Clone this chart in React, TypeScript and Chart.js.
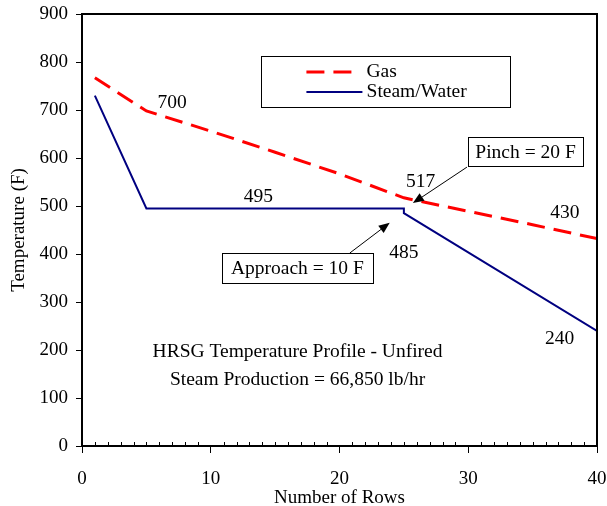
import React, { useEffect, useRef } from "react";
import Chart from "chart.js/auto";

const gasRows = [1, 5, 10, 15, 20, 25, 30, 35, 40];
const gasTemps = [767, 698, 656, 612, 567, 517, 489, 461, 432];
const steamRows = [1, 5, 25, 25, 40];
const steamTemps = [730, 495, 495, 485, 240];

const xTicks = [0, 10, 20, 30, 40];
const yTicks = [0, 100, 200, 300, 400, 500, 600, 700, 800, 900];

const valueLabels = [
  { text: "700", x: 7.0, y: 715 },
  { text: "495", x: 13.7, y: 519 },
  { text: "517", x: 26.3, y: 550 },
  { text: "485", x: 25.0, y: 402 },
  { text: "430", x: 37.5, y: 485 },
  { text: "240", x: 37.1, y: 223 },
];

const noteBoxes = [
  { text: "Pinch = 20 F", x1: 30.0, x2: 38.9, y1: 644, y2: 583, ax: 29.9, ay: 581, bx: 25.7, by: 506 },
  { text: "Approach = 10 F", x1: 10.85, x2: 22.6, y1: 402, y2: 340, ax: 20.8, ay: 402, bx: 23.9, by: 465 },
];

const centerLines = [
  { text: "HRSG Temperature Profile - Unfired", x: 16.74, y: 196 },
  { text: "Steam Production = 66,850 lb/hr", x: 16.74, y: 137 },
];

const legendBox = { x1: 13.94, x2: 33.28, y1: 812.5, y2: 706 };
const legendItems = [
  { text: "Gas", lx1: 17.43, lx2: 21.0, y: 779, color: "#ff0000", width: 3, dash: [18, 9] },
  { text: "Steam/Water", lx1: 17.43, lx2: 21.78, y: 737.5, color: "#000080", width: 2, dash: [] as number[] },
];
const legendTextX = 22.1;

const FONT = "'Liberation Serif', 'Times New Roman', serif";
const NOTE_SIZE = 19.5;

const annotationPlugin = {
  id: "annotations",
  afterDraw(chart: any) {
    const { ctx, chartArea, scales } = chart;
    const xs = scales.x;
    const ys = scales.y;
    const px = (v: number) => xs.getPixelForValue(v);
    const py = (v: number) => ys.getPixelForValue(v);
    ctx.save();
    // frame top/right
    ctx.strokeStyle = "#000";
    ctx.lineWidth = 2;
    ctx.beginPath();
    ctx.moveTo(chartArea.left, chartArea.top);
    ctx.lineTo(chartArea.right, chartArea.top);
    ctx.lineTo(chartArea.right, chartArea.bottom);
    ctx.stroke();
    // minor ticks inside on x axis
    ctx.lineWidth = 1;
    ctx.beginPath();
    for (let i = 1; i < 40; i++) {
      if (i % 10 === 0) continue;
      const x = Math.round(px(i)) + 0.5;
      ctx.moveTo(x, chartArea.bottom);
      ctx.lineTo(x, chartArea.bottom - 4);
    }
    ctx.stroke();

    ctx.fillStyle = "#000";
    ctx.font = `${NOTE_SIZE}px ${FONT}`;
    ctx.textAlign = "center";
    ctx.textBaseline = "middle";
    valueLabels.forEach((l) => ctx.fillText(l.text, px(l.x), py(l.y)));
    centerLines.forEach((l) => ctx.fillText(l.text, px(l.x), py(l.y)));

    // note boxes with arrows
    noteBoxes.forEach((b) => {
      const x1 = px(b.x1), x2 = px(b.x2), y1 = py(b.y1), y2 = py(b.y2);
      ctx.fillStyle = "#fff";
      ctx.fillRect(x1, y1, x2 - x1, y2 - y1);
      ctx.strokeStyle = "#000";
      ctx.lineWidth = 1;
      ctx.strokeRect(Math.round(x1) + 0.5, Math.round(y1) + 0.5, Math.round(x2 - x1), Math.round(y2 - y1));
      ctx.fillStyle = "#000";
      ctx.fillText(b.text, (x1 + x2) / 2, (y1 + y2) / 2 + 1);
      const ax = px(b.ax), ay = py(b.ay), bx = px(b.bx), by = py(b.by);
      const ang = Math.atan2(by - ay, bx - ax);
      const hl = 11, hw = 4.5;
      const baseX = bx - hl * Math.cos(ang), baseY = by - hl * Math.sin(ang);
      ctx.beginPath();
      ctx.moveTo(ax, ay);
      ctx.lineTo(baseX, baseY);
      ctx.stroke();
      ctx.beginPath();
      ctx.moveTo(bx, by);
      ctx.lineTo(baseX + hw * Math.sin(ang), baseY - hw * Math.cos(ang));
      ctx.lineTo(baseX - hw * Math.sin(ang), baseY + hw * Math.cos(ang));
      ctx.closePath();
      ctx.fill();
    });

    // legend
    {
      const x1 = px(legendBox.x1), x2 = px(legendBox.x2), y1 = py(legendBox.y1), y2 = py(legendBox.y2);
      ctx.fillStyle = "#fff";
      ctx.fillRect(x1, y1, x2 - x1, y2 - y1);
      ctx.strokeStyle = "#000";
      ctx.lineWidth = 1;
      ctx.strokeRect(Math.round(x1) + 0.5, Math.round(y1) + 0.5, Math.round(x2 - x1), Math.round(y2 - y1));
      legendItems.forEach((it) => {
        ctx.strokeStyle = it.color;
        ctx.lineWidth = it.width;
        ctx.setLineDash(it.dash);
        ctx.beginPath();
        ctx.moveTo(px(it.lx1), py(it.y));
        ctx.lineTo(px(it.lx2), py(it.y));
        ctx.stroke();
        ctx.setLineDash([]);
        ctx.fillStyle = "#000";
        ctx.textAlign = "left";
        ctx.fillText(it.text, px(legendTextX), py(it.y));
      });
    }
    ctx.restore();
  },
};

export default function App() {
  const ref = useRef<HTMLCanvasElement | null>(null);
  useEffect(() => {
    document.body.style.margin = "0";
    const canvas = ref.current;
    if (!canvas) return;
    const chart = new Chart(canvas, {
      type: "line",
      data: {
        datasets: [
          {
            label: "Gas",
            data: gasRows.map((r, i) => ({ x: r, y: gasTemps[i] })),
            borderColor: "#ff0000",
            borderWidth: 3,
            borderDash: [18, 9],
            pointRadius: 0,
            tension: 0,
            fill: false,
          },
          {
            label: "Steam/Water",
            data: steamRows.map((r, i) => ({ x: r, y: steamTemps[i] })),
            borderColor: "#000080",
            borderWidth: 2,
            pointRadius: 0,
            tension: 0,
            fill: false,
          },
        ],
      },
      options: {
        animation: false,
        responsive: false,
        events: [],
        layout: { padding: { top: 14, right: 10, left: 0, bottom: 0 } },
        plugins: { legend: { display: false }, tooltip: { enabled: false } },
        scales: {
          x: {
            type: "linear",
            min: 0,
            max: 40,
            afterBuildTicks: (s: any) => {
              s.ticks = xTicks.map((v) => ({ value: v }));
            },
            afterFit: (s: any) => {
              s.height = 60;
              s.paddingLeft = 0;
              s.paddingRight = 0;
            },
            ticks: { color: "#000", font: { family: FONT, size: 19 }, padding: 15, maxRotation: 0 },
            grid: { drawOnChartArea: false, drawTicks: true, tickLength: 7, color: "#000", lineWidth: 1 },
            border: { display: true, color: "#000", width: 2 },
            title: {
              display: true,
              text: "Number of Rows",
              color: "#000",
              font: { family: FONT, size: 19, lineHeight: 1 },
              padding: { top: 0, bottom: -2 },
            },
          },
          y: {
            type: "linear",
            min: 0,
            max: 900,
            afterBuildTicks: (s: any) => {
              s.ticks = yTicks.map((v) => ({ value: v }));
            },
            afterFit: (s: any) => {
              s.width = 82;
              s.paddingTop = 0;
              s.paddingBottom = 0;
            },
            ticks: { color: "#000", font: { family: FONT, size: 19 }, padding: 8 },
            grid: { drawOnChartArea: false, drawTicks: true, tickLength: 6, color: "#000", lineWidth: 1 },
            border: { display: true, color: "#000", width: 2 },
            title: {
              display: true,
              text: "Temperature (F)",
              color: "#000",
              font: { family: FONT, size: 19 },
              padding: { top: 8, bottom: 0 },
            },
          },
        },
      },
      plugins: [annotationPlugin],
    });
    return () => chart.destroy();
  }, []);
  return <canvas ref={ref} width={607} height={506} style={{ display: "block" }} />;
}
